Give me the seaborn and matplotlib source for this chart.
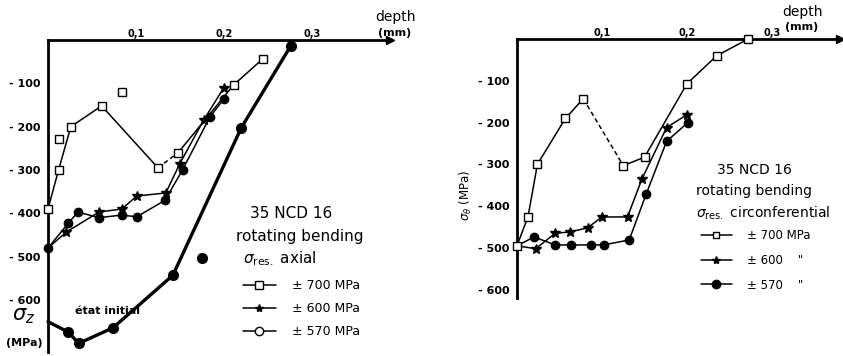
#!/usr/bin/env python3
# -*- coding: utf-8 -*-

import matplotlib
matplotlib.use('Agg')
import matplotlib.pyplot as plt
from matplotlib.lines import Line2D
import seaborn as sns

# ---- data (depth in mm, residual stress in MPa) ----
# left panel: sigma res. axial
ax_700_depth = [0.0, 0.012, 0.012, 0.026, 0.061, 0.084, 0.125, 0.148, 0.211, 0.244]
ax_700_stress = [-390, -300, -228, -200, -152, -120, -295, -260, -104, -44]
ax_700_on_curve = [1, 1, 0, 1, 1, 0, 1, 1, 1, 1]

ax_600_depth = [0.0, 0.021, 0.058, 0.084, 0.101, 0.134, 0.150, 0.177, 0.200]
ax_600_stress = [-480, -443, -397, -390, -360, -353, -285, -185, -110]

ax_570_depth = [0.0, 0.023, 0.034, 0.058, 0.084, 0.101, 0.133, 0.153, 0.184, 0.200]
ax_570_stress = [-480, -423, -397, -410, -404, -408, -370, -300, -178, -136]

init_depth = [0.0, 0.023, 0.035, 0.074, 0.142, 0.175, 0.220, 0.276]
init_stress = [-650, -674, -700, -664, -543, -503, -202, -14]
init_marked = [0, 1, 1, 1, 1, 1, 1, 1]
init_on_curve = [1, 1, 1, 1, 1, 0, 1, 1]

# right panel: sigma res. circonferential
ci_700_depth = [0.0, 0.013, 0.024, 0.057, 0.078, 0.125, 0.150, 0.200, 0.235, 0.272]
ci_700_stress = [-495, -425, -300, -190, -143, -303, -283, -107, -40, 0]

ci_600_depth = [0.0, 0.022, 0.045, 0.062, 0.083, 0.100, 0.130, 0.147, 0.176, 0.200]
ci_600_stress = [-495, -502, -465, -462, -452, -426, -426, -335, -212, -181]

ci_570_depth = [0.0, 0.020, 0.045, 0.064, 0.087, 0.102, 0.132, 0.152, 0.176, 0.201]
ci_570_stress = [-495, -474, -493, -493, -493, -493, -481, -371, -245, -200]

x_ticks = [0.1, 0.2, 0.3]
x_tick_labels = ['0,1', '0,2', '0,3']
y_ticks = [-100, -200, -300, -400, -500, -600]
y_tick_labels = ['- 100', '- 200', '- 300', '- 400', '- 500', '- 600']
legend_labels_left = ['± 700 MPa', '± 600 MPa', '± 570 MPa']
legend_labels_right = ['± 700 MPa', '± 600    "', '± 570    "']

W, H = 843, 356


def fx(px):
    return px / W


def fy(py):
    return 1 - py / H


def line(ax, xs, ys, lw=1.1, ls='-'):
    sns.lineplot(x=xs, y=ys, ax=ax, sort=False, color='k', lw=lw, ls=ls,
                 estimator=None, clip_on=False)


def marks(ax, xs, ys, marker, filled, size=6):
    ax.plot(xs, ys, ls='none', marker=marker, ms=size, color='k',
            mfc='k' if filled else 'white', mew=1.0, clip_on=False, zorder=5)


def style_axes(ax, xmax, ymin):
    ax.set_xlim(0, xmax)
    ax.set_ylim(ymin, 0)
    for s in ['bottom', 'right']:
        ax.spines[s].set_visible(False)
    for s in ['top', 'left']:
        ax.spines[s].set_linewidth(2)
        ax.spines[s].set_color('k')
    ax.xaxis.tick_top()
    ax.set_xticks(x_ticks)
    ax.set_xticklabels(x_tick_labels, fontsize=7, fontweight='bold')
    ax.tick_params(axis='x', length=0, pad=1, colors='k')
    ax.set_yticks(y_ticks)
    ax.set_yticklabels(y_tick_labels, fontsize=8, fontweight='bold')
    ax.tick_params(axis='y', direction='inout', length=5, width=1.2, pad=3, colors='k')
    ax.set_xlabel('')
    ax.set_ylabel('')
    ax.plot(1, 1, marker='>', ms=6, color='k', transform=ax.transAxes, clip_on=False)
    ax.set_facecolor('white')


sns.set_style('white')
plt.rcParams['font.family'] = ['DejaVu Sans']
plt.rcParams['text.color'] = 'black'
plt.rcParams['axes.labelcolor'] = 'black'

fig = plt.figure(figsize=(W / 100, H / 100), dpi=100)

# ---------------- left panel ----------------
ax1 = fig.add_axes([fx(48), fy(352), 342 / W, 312 / H])
style_axes(ax1, 0.389, -720)

# +-700: solid, dashed drop between hump and minimum, solid again
d7 = [d for d, k in zip(ax_700_depth, ax_700_on_curve) if k]
s7 = [s for s, k in zip(ax_700_stress, ax_700_on_curve) if k]
line(ax1, d7[:5], s7[:5])
line(ax1, d7[4:6], s7[4:6], ls=(0, (3, 2)))
line(ax1, d7[5:], s7[5:])
marks(ax1, ax_700_depth, ax_700_stress, 's', False)

line(ax1, ax_600_depth, ax_600_stress)
marks(ax1, ax_600_depth[1:], ax_600_stress[1:], '*', True, 7)

line(ax1, ax_570_depth, ax_570_stress)
marks(ax1, ax_570_depth, ax_570_stress, 'o', True)

di = [d for d, k in zip(init_depth, init_on_curve) if k]
si = [s for s, k in zip(init_stress, init_on_curve) if k]
line(ax1, di, si, lw=2.4)
marks(ax1, [d for d, k in zip(init_depth, init_marked) if k],
      [s for s, k in zip(init_stress, init_marked) if k], 'o', True, 7)

ax1.text(0.031, -625, 'état initial', fontsize=8, fontweight='bold', va='center')

fig.text(fx(250), fy(213), '35 NCD 16', fontsize=11, va='center')
fig.text(fx(236), fy(236), 'rotating bending', fontsize=11, va='center')
fig.text(fx(243), fy(259), r'$\sigma_{\mathrm{res.}}$ axial', fontsize=11, va='center')

h_left = [Line2D([], [], color='k', lw=1.1, marker='s', mfc='white', ms=6),
          Line2D([], [], color='k', lw=1.1, marker='*', ms=6),
          Line2D([], [], color='k', lw=1.1, marker='o', mfc='white', ms=6)]
fig.legend(h_left, legend_labels_left, loc='upper left',
           bbox_to_anchor=(fx(243), fy(279)), frameon=False, fontsize=9,
           handlelength=2.6, handletextpad=1.3, labelspacing=0.8, borderpad=0,
           borderaxespad=0)

fig.text(fx(12), fy(316), r'$\sigma_z$', fontsize=15, va='center')
fig.text(fx(6), fy(343), '(MPa)', fontsize=8, fontweight='bold', va='center')
fig.text(fx(375), fy(17), 'depth', fontsize=10, va='center')
fig.text(fx(378), fy(33), '(mm)', fontsize=8, fontweight='bold', va='center')

# ---------------- right panel ----------------
ax2 = fig.add_axes([fx(517), fy(298), 323 / W, 259 / H])
style_axes(ax2, 0.38, -620)

line(ax2, ci_700_depth[:5], ci_700_stress[:5])
line(ax2, ci_700_depth[4:6], ci_700_stress[4:6], ls=(0, (3, 2)))
line(ax2, ci_700_depth[5:], ci_700_stress[5:])
marks(ax2, ci_700_depth, ci_700_stress, 's', False)

line(ax2, ci_600_depth, ci_600_stress)
marks(ax2, ci_600_depth[1:], ci_600_stress[1:], '*', True, 7)

line(ax2, ci_570_depth, ci_570_stress)
marks(ax2, ci_570_depth[1:], ci_570_stress[1:], 'o', True)

fig.text(fx(717), fy(170), '35 NCD 16', fontsize=10, va='center')
fig.text(fx(696), fy(191), 'rotating bending', fontsize=10, va='center')
fig.text(fx(696), fy(213), r'$\sigma_{\mathrm{res.}}$ circonferential', fontsize=10, va='center')

h_right = [Line2D([], [], color='k', lw=1.1, marker='s', mfc='white', ms=5),
           Line2D([], [], color='k', lw=1.1, marker='*', ms=6),
           Line2D([], [], color='k', lw=1.1, marker='o', ms=6)]
fig.legend(h_right, legend_labels_right, loc='upper left',
           bbox_to_anchor=(fx(701), fy(229)), frameon=False, fontsize=8.5,
           handlelength=2.6, handletextpad=1.3, labelspacing=1.0, borderpad=0,
           borderaxespad=0)

fig.text(fx(466), fy(195), r'$\sigma_\theta$ (MPa)', fontsize=8.5, rotation=90,
         ha='center', va='center')
fig.text(fx(782), fy(12), 'depth', fontsize=10, va='center')
fig.text(fx(785), fy(27), '(mm)', fontsize=8, fontweight='bold', va='center')

fig.savefig('out.png', dpi=100, facecolor='white')
plt.close(fig)
